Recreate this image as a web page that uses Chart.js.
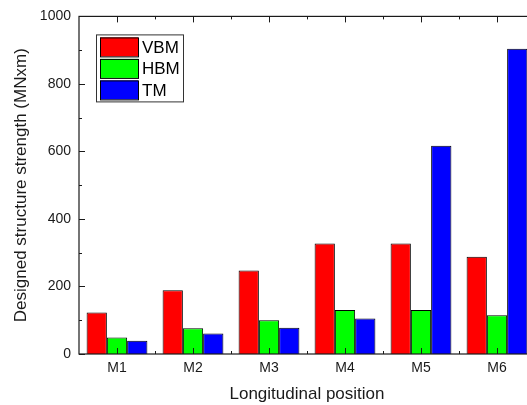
<!DOCTYPE html>
<html>
<head>
<meta charset="utf-8">
<script src="https://cdn.jsdelivr.net/npm/chart.js@4"></script>
<style>
  html, body { margin: 0; padding: 0; background: #fff; overflow: hidden; }
  #myChart { display: block; }
</style>
</head>
<body>
<canvas id="myChart" width="546" height="405"></canvas>
<script>
// chart values
const positions = ['M1', 'M2', 'M3', 'M4', 'M5', 'M6'];
const vbm = [123, 189, 247, 327, 327, 288];
const hbm = [49, 76, 100, 130, 130, 115];
const tm = [39, 61, 78, 105, 617, 904];
const yTicks = [0, 200, 400, 600, 800, 1000];

const FONT = 'Liberation Sans, Arial, sans-serif';
const INK = '#1a1a1a';

// frame, inward ticks and the boxed legend in the upper left
const framePlugin = {
    id: 'frame',
    afterDatasetsDraw(chart) {
        const ctx = chart.ctx;
        const area = chart.chartArea;
        const x = chart.scales.x;
        const y = chart.scales.y;
        ctx.save();
        ctx.strokeStyle = INK;
        ctx.lineWidth = 1.2;
        ctx.strokeRect(area.left, area.top, area.right - area.left, area.bottom - area.top);

        ctx.lineWidth = 1;
        ctx.beginPath();
        // y ticks, major every 200, minor between
        for (let v = 0; v <= 1000; v += 100) {
            const py = Math.round(y.getPixelForValue(v)) + 0.5;
            const len = yTicks.includes(v) ? 6 : 3;
            ctx.moveTo(area.left, py);
            ctx.lineTo(area.left + len, py);
            ctx.moveTo(area.right, py);
            ctx.lineTo(area.right - len, py);
        }
        // x ticks, major at categories, minor at the boundaries
        for (let i = 0; i < positions.length; i++) {
            const px = Math.round(x.getPixelForValue(i)) + 0.5;
            ctx.moveTo(px, area.bottom);
            ctx.lineTo(px, area.bottom - 6);
            ctx.moveTo(px, area.top);
            ctx.lineTo(px, area.top + 6);
            if (i > 0) {
                const bx = Math.round((x.getPixelForValue(i) + x.getPixelForValue(i - 1)) / 2) + 0.5;
                ctx.moveTo(bx, area.bottom);
                ctx.lineTo(bx, area.bottom - 3);
                ctx.moveTo(bx, area.top);
                ctx.lineTo(bx, area.top + 3);
            }
        }
        ctx.stroke();

        // legend
        const lx = area.left + 17;
        const ly = area.top + 18;
        const rowH = 21.5;
        const sets = chart.data.datasets;
        ctx.fillStyle = '#fff';
        ctx.fillRect(lx, ly, 87, 67);
        ctx.strokeStyle = '#333';
        ctx.strokeRect(lx + 0.5, ly + 0.5, 87, 67);
        ctx.font = '17px ' + FONT;
        ctx.textBaseline = 'middle';
        sets.forEach((ds, i) => {
            const top = ly + 3 + i * rowH;
            ctx.fillStyle = ds.backgroundColor;
            ctx.fillRect(lx + 4, top, 38, 19);
            ctx.strokeStyle = '#000';
            ctx.strokeRect(lx + 4.5, top + 0.5, 38, 19);
            ctx.fillStyle = '#000';
            ctx.fillText(ds.label, lx + 46, top + 10.5);
        });
        ctx.restore();
    }
};

const ctx = document.getElementById('myChart').getContext('2d');

const myChart = new Chart(ctx, {
    type: 'bar',
    data: {
        labels: positions,
        datasets: [
            { label: 'VBM', data: vbm, backgroundColor: '#ff0000', borderColor: '#000', borderWidth: 1 },
            { label: 'HBM', data: hbm, backgroundColor: '#00ff00', borderColor: '#000', borderWidth: 1 },
            { label: 'TM', data: tm, backgroundColor: '#0000ff', borderColor: '#000', borderWidth: 1 }
        ]
    },
    options: {
        responsive: false,
        animation: false,
        events: [],
        layout: { padding: { top: 15, right: 11, left: 0, bottom: 0 } },
        datasets: { bar: { categoryPercentage: 0.8, barPercentage: 1 } },
        plugins: {
            legend: { display: false },
            tooltip: { enabled: false }
        },
        scales: {
            x: {
                grid: { display: false, drawTicks: false },
                border: { display: false },
                ticks: { color: INK, padding: 6, font: { family: FONT, size: 14 } },
                title: {
                    display: true,
                    text: 'Longitudinal position',
                    color: INK,
                    padding: 0,
                    font: { family: FONT, size: 17 }
                },
                afterFit(scale) { scale.height = 51; }
            },
            y: {
                min: 0,
                max: 1000,
                grid: { display: false, drawTicks: false },
                border: { display: false },
                ticks: {
                    stepSize: 200,
                    color: INK,
                    padding: 8,
                    font: { family: FONT, size: 14 },
                    callback: (value) => String(value)
                },
                title: {
                    display: true,
                    text: 'Designed structure strength (MNxm)',
                    color: INK,
                    padding: { top: 11, bottom: 0 },
                    font: { family: FONT, size: 17 }
                },
                afterFit(scale) { scale.width = 79; }
            }
        }
    },
    plugins: [framePlugin]
});
</script>
</body>
</html>
